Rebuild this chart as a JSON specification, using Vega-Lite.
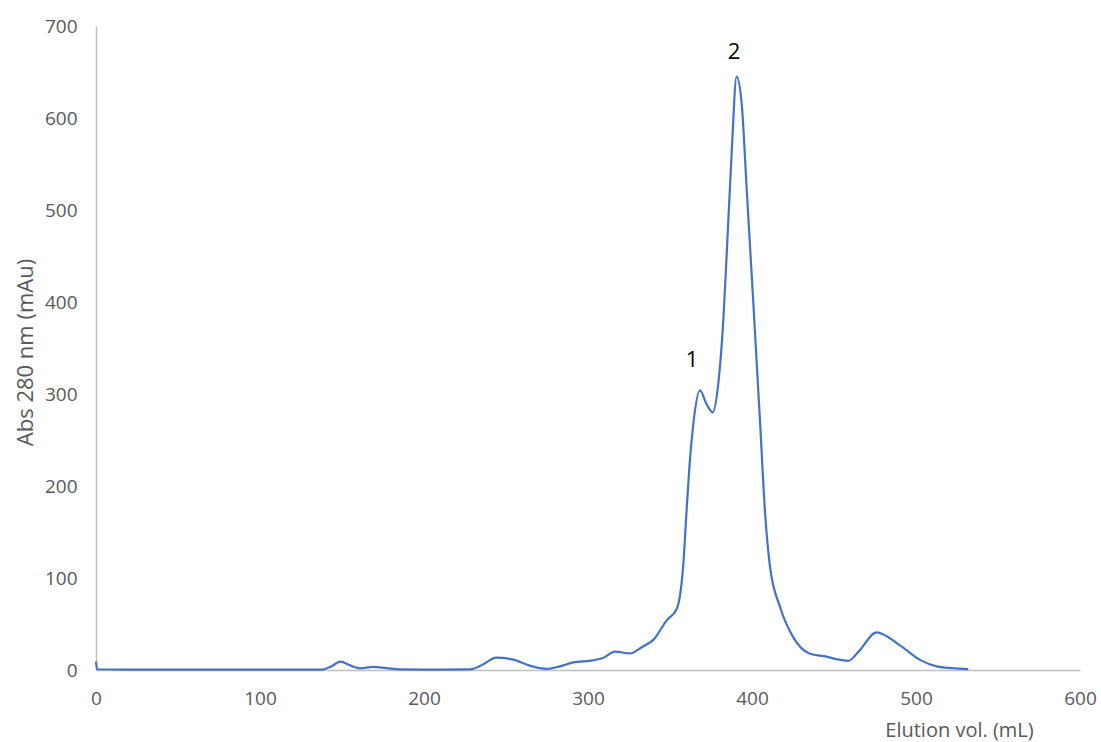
{
  "$schema": "https://vega.github.io/schema/vega-lite/v6.json",
  "width": 984,
  "height": 644,
  "autosize": "none",
  "padding": {"left": 96, "top": 26, "right": 21, "bottom": 72},
  "background": "white",
  "config": {
    "view": {"stroke": null},
    "font": "Open Sans",
    "axis": {"grid": false, "ticks": false, "domainColor": "#BFBFBF", "domainWidth": 1.5, "labelColor": "#595959", "labelFontSize": 19, "titleColor": "#595959", "titleFontWeight": "normal", "labelFont": "Open Sans", "titleFont": "Open Sans", "labelFlush": false}
  },
  "datasets": {
    "trace": [
      {"vol": 0, "abs": 9}, {"vol": 0.6, "abs": 0.8}, {"vol": 20, "abs": 0.5}, {"vol": 60, "abs": 0.4},
      {"vol": 100, "abs": 0.4}, {"vol": 138, "abs": 0.5}, {"vol": 143, "abs": 3.5}, {"vol": 149, "abs": 9},
      {"vol": 155, "abs": 5}, {"vol": 161, "abs": 1.8}, {"vol": 169, "abs": 3.4}, {"vol": 177, "abs": 2},
      {"vol": 186, "abs": 0.6}, {"vol": 200, "abs": 0.4}, {"vol": 228, "abs": 0.7}, {"vol": 236, "abs": 6},
      {"vol": 244, "abs": 13.5}, {"vol": 254, "abs": 11.5}, {"vol": 264, "abs": 5}, {"vol": 275, "abs": 1.2},
      {"vol": 283, "abs": 4}, {"vol": 291, "abs": 8.3}, {"vol": 303, "abs": 10.5}, {"vol": 309, "abs": 13},
      {"vol": 316.5, "abs": 20}, {"vol": 325.5, "abs": 18}, {"vol": 333, "abs": 25}, {"vol": 340, "abs": 33},
      {"vol": 348, "abs": 54}, {"vol": 354, "abs": 66}, {"vol": 356, "abs": 80}, {"vol": 358, "abs": 112},
      {"vol": 360, "abs": 170}, {"vol": 362, "abs": 225}, {"vol": 364, "abs": 264}, {"vol": 368.3, "abs": 304},
      {"vol": 372, "abs": 290}, {"vol": 376, "abs": 280}, {"vol": 379.5, "abs": 312}, {"vol": 382.5, "abs": 380},
      {"vol": 384.6, "abs": 453}, {"vol": 387.6, "abs": 562}, {"vol": 390.6, "abs": 645}, {"vol": 393.7, "abs": 616},
      {"vol": 396.7, "abs": 525}, {"vol": 400.8, "abs": 399}, {"vol": 404.9, "abs": 270}, {"vol": 408, "abs": 170},
      {"vol": 411, "abs": 112}, {"vol": 417, "abs": 69}, {"vol": 425, "abs": 36}, {"vol": 435, "abs": 18},
      {"vol": 445.5, "abs": 14.5}, {"vol": 452, "abs": 11.5}, {"vol": 458.7, "abs": 10}, {"vol": 465, "abs": 20},
      {"vol": 476, "abs": 41}, {"vol": 490, "abs": 27}, {"vol": 502.4, "abs": 11}, {"vol": 512.6, "abs": 4},
      {"vol": 522, "abs": 2}, {"vol": 531.9, "abs": 1}
    ],
    "labels": [
      {"vol": 363.4, "abs": 337, "text": "1"},
      {"vol": 389, "abs": 672, "text": "2"}
    ]
  },
  "layer": [
    {
      "data": {"name": "trace"},
      "mark": {"type": "line", "interpolate": "monotone", "color": "#4472C4", "strokeWidth": 2.2},
      "encoding": {
        "x": {"field": "vol", "type": "quantitative", "scale": {"domain": [0, 600], "nice": false},
          "axis": {"values": [0, 100, 200, 300, 400, 500, 600], "labelPadding": 19, "title": "Elution vol. (mL)", "titleFontSize": 20, "titleX": 863, "titleY": 60, "titleAlign": "center", "titleBaseline": "middle"}},
        "y": {"field": "abs", "type": "quantitative", "scale": {"domain": [0, 700], "nice": false},
          "axis": {"values": [0, 100, 200, 300, 400, 500, 600, 700], "labelPadding": 19, "title": "Abs 280 nm (mAu)", "titleFontSize": 22, "titleX": -71, "titleY": 326, "titleAlign": "center", "titleBaseline": "middle"}}
      }
    },
    {
      "data": {"name": "labels"},
      "mark": {"type": "text", "fontSize": 22, "color": "black", "font": "Open Sans", "baseline": "middle"},
      "encoding": {
        "x": {"field": "vol", "type": "quantitative"},
        "y": {"field": "abs", "type": "quantitative"},
        "text": {"field": "text"}
      }
    }
  ]
}
